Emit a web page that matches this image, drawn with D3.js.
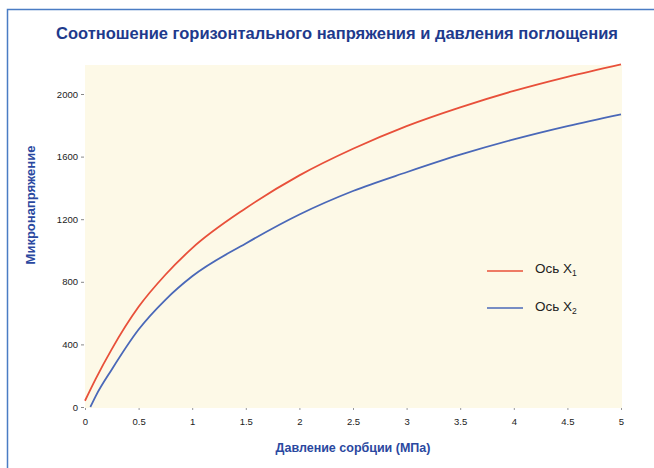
<!DOCTYPE html>
<html><head><meta charset="utf-8">
<script src="https://cdn.jsdelivr.net/npm/d3@7"></script>
<style>
html,body{margin:0;padding:0;background:#fff;}
svg{display:block;font-family:"Liberation Sans",Arial,sans-serif;}
</style></head>
<body>
<script>
const title = "Соотношение горизонтального напряжения и давления поглощения";
const yTitle = "Микронапряжение";
const xTitle = "Давление сорбции (МПа)";
const xTicks = [0, 0.5, 1, 1.5, 2, 2.5, 3, 3.5, 4, 4.5, 5];
const yTicks = [0, 400, 800, 1200, 1600, 2000];
const seriesNames = ["Ось X", "Ось X"];
const seriesSubs = ["1", "2"];
const seriesColors = ["#e8503a", "#4a68b8"];
const x1 = [0, 0.1, 0.25, 0.5, 0.75, 1, 1.5, 2, 2.5, 3, 3.5, 4, 4.5, 5];
const y1 = [40, 180, 370, 640, 845, 1015, 1270, 1480, 1650, 1795, 1915, 2020, 2110, 2190];
const x2 = [0.05, 0.1, 0.25, 0.5, 0.75, 1, 1.5, 2, 2.5, 3, 3.5, 4, 4.5, 5];
const y2 = [0, 70, 240, 495, 685, 835, 1045, 1230, 1380, 1500, 1612, 1710, 1795, 1870];

const W = 654, H = 468;
const svg = d3.select("body").append("svg").attr("width", W).attr("height", H);

// frame
svg.append("path").attr("d", `M7.5,${H+5} L7.5,9.5 L${W+5},9.5`)
  .attr("fill", "none").attr("stroke", "#4a7cc4").attr("stroke-width", 1.5);

const plot = {left: 85, right: 622, top: 65, bottom: 408};
const x = d3.scaleLinear().domain([0, 5]).range([85, 621]);
const y = d3.scaleLinear().domain([0, 2000]).range([407, 94]);

svg.append("rect").attr("x", plot.left).attr("y", plot.top)
  .attr("width", plot.right - plot.left).attr("height", plot.bottom - plot.top)
  .attr("fill", "#fdf9e7");

svg.append("text").attr("x", 337).attr("y", 39).attr("text-anchor", "middle")
  .attr("font-size", 16.5).attr("font-weight", "bold").attr("fill", "#1e3a8c").text(title);

// y axis
const yAxis = d3.axisLeft(y).tickValues(yTicks).tickSize(3).tickPadding(3).tickFormat(d3.format("d"));
const gy = svg.append("g").attr("transform", "translate(84,0)").call(yAxis);
gy.select(".domain").remove();
gy.selectAll("line").attr("stroke", "#888");
gy.selectAll("text").attr("font-size", 9.5).attr("fill", "#222").attr("font-family", "'Liberation Sans',Arial,sans-serif");

// x axis
const xAxis = d3.axisBottom(x).tickValues(xTicks).tickSize(2).tickPadding(8).tickFormat(d => String(d));
const gx = svg.append("g").attr("transform", "translate(0,408)").call(xAxis);
gx.select(".domain").remove();
gx.selectAll("line").attr("stroke", "#999");
gx.selectAll("text").attr("font-size", 9.5).attr("fill", "#222").attr("font-family", "'Liberation Sans',Arial,sans-serif");

svg.append("text").attr("transform", "translate(35,205) rotate(-90)").attr("text-anchor", "middle")
  .attr("font-size", 13).attr("font-weight", "bold").attr("fill", "#2a48a0").text(yTitle);
svg.append("text").attr("x", 353).attr("y", 452).attr("text-anchor", "middle")
  .attr("font-size", 12.5).attr("font-weight", "bold").attr("fill", "#2a48a0").text(xTitle);

const line = d3.line().x(d => x(d[0])).y(d => y(d[1])).curve(d3.curveMonotoneX);
const data = [x1.map((v, i) => [v, y1[i]]), x2.map((v, i) => [v, y2[i]])];
data.forEach((s, i) => {
  svg.append("path").attr("d", line(s)).attr("fill", "none")
    .attr("stroke", seriesColors[i]).attr("stroke-width", 1.8);
});

// legend
const legY = [271, 308];
seriesNames.forEach((n, i) => {
  svg.append("line").attr("x1", 487).attr("x2", 523).attr("y1", legY[i]).attr("y2", legY[i])
    .attr("stroke", seriesColors[i]).attr("stroke-width", 1.5);
  const t = svg.append("text").attr("x", 535).attr("y", legY[i] + 2 + i * 1).attr("font-size", 13.5).attr("fill", "#222");
  t.append("tspan").text(n);
  t.append("tspan").attr("font-size", 8.5).attr("dy", 3).text(seriesSubs[i]);
});
</script>
</body></html>
